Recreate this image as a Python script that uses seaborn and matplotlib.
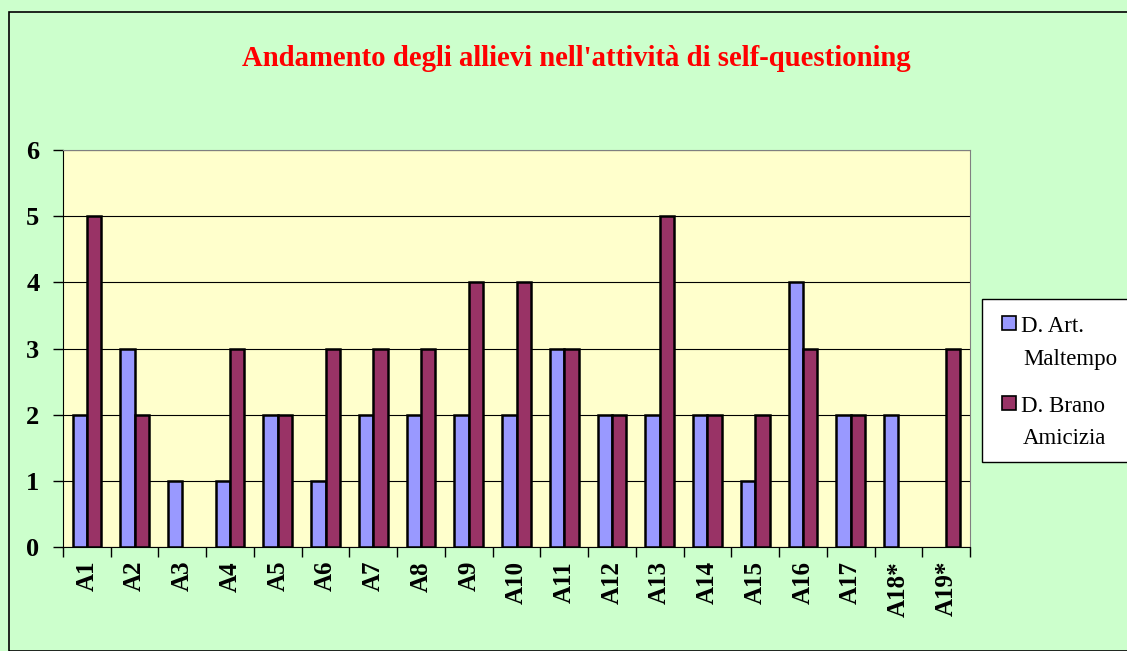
import pandas as pd
import matplotlib.pyplot as plt
import seaborn as sns
from matplotlib.patches import Rectangle

categories = ["A1", "A2", "A3", "A4", "A5", "A6", "A7", "A8", "A9", "A10",
              "A11", "A12", "A13", "A14", "A15", "A16", "A17", "A18*", "A19*"]
maltempo = [2, 3, 1, 1, 2, 1, 2, 2, 2, 2, 3, 2, 2, 2, 1, 4, 2, 2, 0]
amicizia = [5, 2, 0, 3, 2, 3, 3, 3, 4, 4, 3, 2, 5, 2, 2, 3, 2, 0, 3]
series_names = ["D. Art. Maltempo", "D. Brano Amicizia"]
legend_lines = [("D. Art.", "Maltempo"), ("D. Brano", "Amicizia")]
colors = ["#9999FF", "#993366"]

df = pd.DataFrame({
    "Allievo": categories * 2,
    "Valore": maltempo + amicizia,
    "Serie": [series_names[0]] * len(categories) + [series_names[1]] * len(categories),
})

sns.set_style("white")
plt.rcParams['font.family'] = ['Liberation Serif', 'DejaVu Serif']
plt.rcParams['text.color'] = 'black'
plt.rcParams['xtick.color'] = 'black'
plt.rcParams['ytick.color'] = 'black'

W, H = 1127, 651
fig = plt.figure(figsize=(W / 100, H / 100), dpi=100)
fig.patch.set_facecolor("#CCFFCC")
fig.patches.append(Rectangle((0.008, 0.0), 1.2, 0.982, transform=fig.transFigure,
                             fill=False, edgecolor="black", linewidth=1.2))

ax = fig.add_axes([63 / W, 1 - 547 / H, (970 - 63) / W, (547 - 150) / H])
ax.set_facecolor("#FFFFCC")

sns.barplot(data=df, x="Allievo", y="Valore", hue="Serie",
            palette=colors, width=0.6, edgecolor="black",
            linewidth=1.8, saturation=1, legend=False, ax=ax)

# no outline for empty bars
for cont in ax.containers:
    for p in cont.patches:
        if p.get_height() == 0:
            p.set_linewidth(0)

ax.set_ylim(0, 6)
ax.set_xlim(-0.5, len(categories) - 0.5)
ax.set_yticks(range(7))
ax.yaxis.grid(True, color="black", linewidth=0.8)
ax.set_axisbelow(True)
ax.set_xlabel("")
ax.set_ylabel("")

ax.set_xticks([i - 0.5 for i in range(len(categories) + 1)], minor=False)
ax.set_xticklabels([])
ax.set_xticks(range(len(categories)), minor=True)
ax.set_xticklabels(categories, minor=True, rotation=90, fontsize=18, fontweight="bold")
ax.tick_params(axis="x", which="major", bottom=True, length=7, width=1, direction="out")
ax.tick_params(axis="x", which="minor", bottom=True, length=0, pad=10)
ax.tick_params(axis="y", left=True, length=7, width=1, direction="out", labelsize=19, pad=10)
for lbl in ax.get_yticklabels():
    lbl.set_fontweight("bold")

for side in ["left", "bottom"]:
    ax.spines[side].set_color("black")
for side in ["top", "right"]:
    ax.spines[side].set_color("#808080")

fig.text(0.5115, 0.91, "Andamento degli allievi nell'attività di self-questioning",
         ha="center", va="center", color="red", fontsize=20.7, fontweight="bold")

# legend box, Excel style (handle next to the first line of each entry)
fig.patches.append(Rectangle((982 / W, 1 - 462 / H), 0.2, (462 - 299) / H,
                             transform=fig.transFigure, facecolor="white",
                             edgecolor="black", linewidth=1.0))
for i, (l1, l2) in enumerate(legend_lines):
    y1 = 326 + i * 80
    fig.patches.append(Rectangle((1002 / W, 1 - (y1 + 4) / H), 14 / W, 14 / H,
                                 transform=fig.transFigure, facecolor=colors[i],
                                 edgecolor="black", linewidth=1.2))
    fig.text(1021 / W, 1 - y1 / H, l1, ha="left", va="center", fontsize=16.5)
    fig.text(1023 / W, 1 - (y1 + 33) / H, l2, ha="left", va="center", fontsize=16.5)

fig.savefig("out.png", dpi=100, facecolor=fig.get_facecolor())
